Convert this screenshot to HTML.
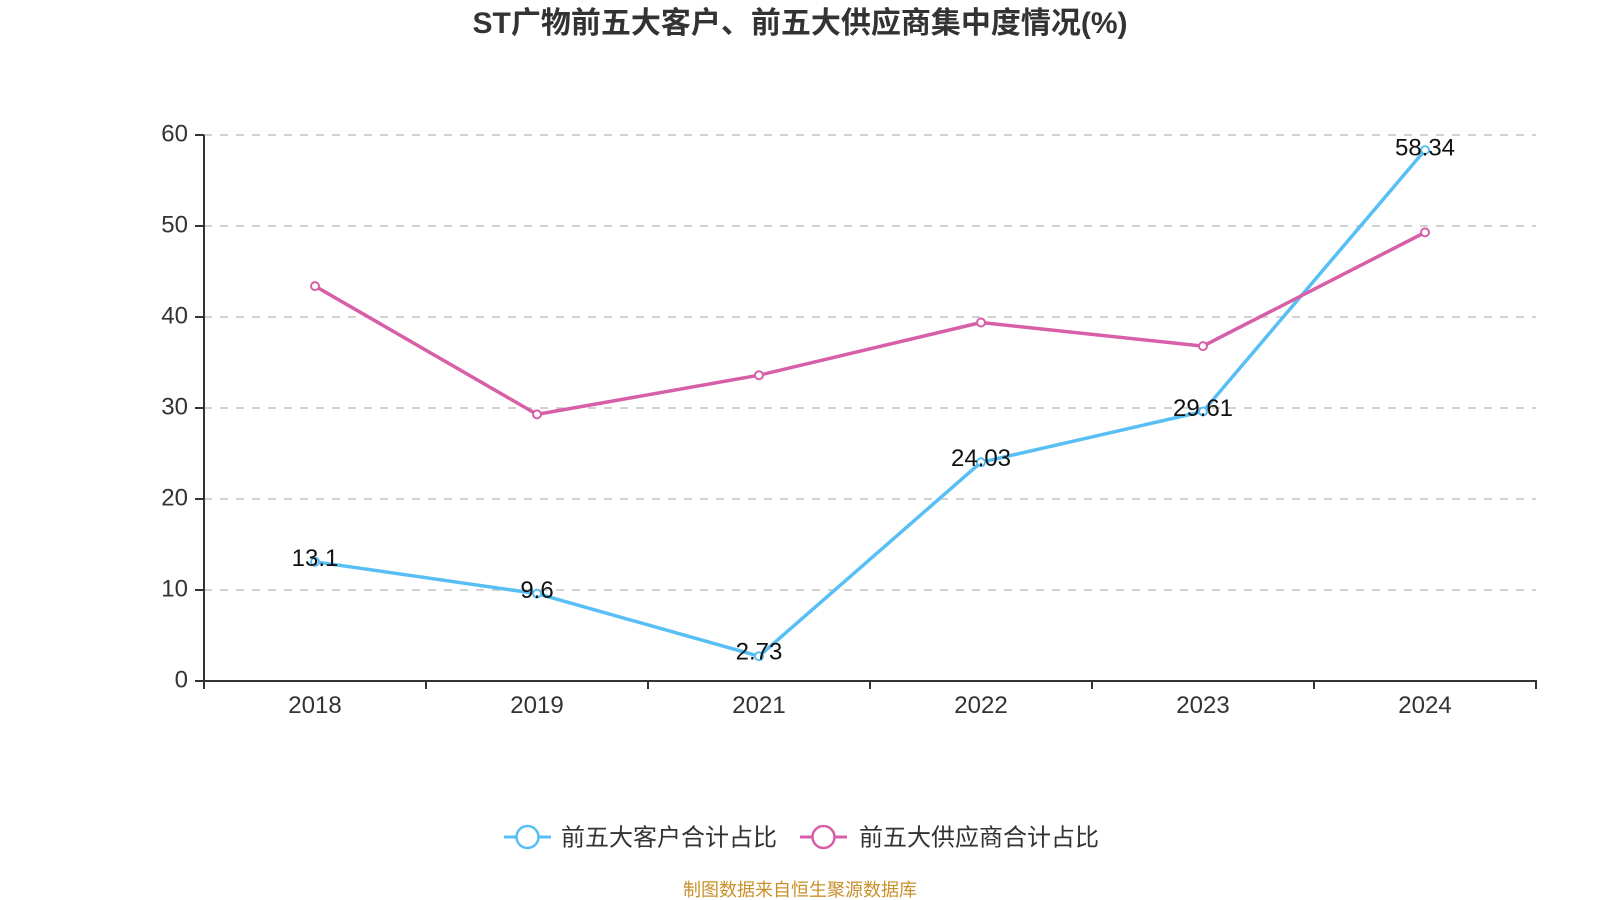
<!DOCTYPE html>
<html>
<head>
<meta charset="utf-8">
<style>
  html, body { margin: 0; padding: 0; background: #fff; }
  body { width: 1600px; height: 900px; overflow: hidden; }
  svg { display: block; }
  text { font-family: "Liberation Sans", "Noto Sans CJK SC", sans-serif; }
</style>
</head>
<body>
<svg width="1600" height="900" viewBox="0 0 1600 900" xmlns="http://www.w3.org/2000/svg">
  <rect width="1600" height="900" fill="#fff"/>

  <!-- Title -->
  <text x="800" y="33" text-anchor="middle" font-size="30" font-weight="bold" fill="#333">ST广物前五大客户、前五大供应商集中度情况(%)</text>

  <!-- Grid lines -->
  <g stroke="#c4c4c4" stroke-width="1.5" stroke-dasharray="8,8">
    <line x1="204" y1="135" x2="1536" y2="135"/>
    <line x1="204" y1="226" x2="1536" y2="226"/>
    <line x1="204" y1="317" x2="1536" y2="317"/>
    <line x1="204" y1="408" x2="1536" y2="408"/>
    <line x1="204" y1="499" x2="1536" y2="499"/>
    <line x1="204" y1="590" x2="1536" y2="590"/>
  </g>

  <!-- Axes -->
  <g stroke="#333" stroke-width="2" fill="none">
    <line x1="204" y1="135" x2="204" y2="681"/>
    <line x1="204" y1="681" x2="1537" y2="681"/>
    <!-- y ticks -->
    <line x1="195" y1="135" x2="204" y2="135"/>
    <line x1="195" y1="226" x2="204" y2="226"/>
    <line x1="195" y1="317" x2="204" y2="317"/>
    <line x1="195" y1="408" x2="204" y2="408"/>
    <line x1="195" y1="499" x2="204" y2="499"/>
    <line x1="195" y1="590" x2="204" y2="590"/>
    <line x1="195" y1="681" x2="204" y2="681"/>
    <!-- x ticks -->
    <line x1="204" y1="681" x2="204" y2="689"/>
    <line x1="426" y1="681" x2="426" y2="689"/>
    <line x1="648" y1="681" x2="648" y2="689"/>
    <line x1="870" y1="681" x2="870" y2="689"/>
    <line x1="1092" y1="681" x2="1092" y2="689"/>
    <line x1="1314" y1="681" x2="1314" y2="689"/>
    <line x1="1536" y1="681" x2="1536" y2="689"/>
  </g>

  <!-- Y labels -->
  <g font-size="24" fill="#333" text-anchor="end">
    <text x="188" y="141.6">60</text>
    <text x="188" y="232.6">50</text>
    <text x="188" y="323.6">40</text>
    <text x="188" y="414.6">30</text>
    <text x="188" y="505.6">20</text>
    <text x="188" y="596.6">10</text>
    <text x="188" y="687.6">0</text>
  </g>

  <!-- X labels -->
  <g font-size="24" fill="#333" text-anchor="middle">
    <text x="315" y="713">2018</text>
    <text x="537" y="713">2019</text>
    <text x="759" y="713">2021</text>
    <text x="981" y="713">2022</text>
    <text x="1203" y="713">2023</text>
    <text x="1425" y="713">2024</text>
  </g>

  <!-- Blue series -->
  <polyline fill="none" stroke="#58bff5" stroke-width="3.5" stroke-linejoin="round"
    points="315,561.8 537,593.6 759,656.2 981,462.3 1203,411.5 1425,150.1"/>
  <g fill="#fff" stroke="#58bff5" stroke-width="2">
    <circle cx="315" cy="561.8" r="4"/>
    <circle cx="537" cy="593.6" r="4"/>
    <circle cx="759" cy="656.2" r="4"/>
    <circle cx="981" cy="462.3" r="4"/>
    <circle cx="1203" cy="411.5" r="4"/>
    <circle cx="1425" cy="150.1" r="4"/>
  </g>

  <!-- Pink series -->
  <polyline fill="none" stroke="#d75fa8" stroke-width="3.5" stroke-linejoin="round"
    points="315,286.1 537,414.4 759,375.2 981,322.5 1203,346.1 1425,232.4"/>
  <g fill="#fff" stroke="#d75fa8" stroke-width="2">
    <circle cx="315" cy="286.1" r="4"/>
    <circle cx="537" cy="414.4" r="4"/>
    <circle cx="759" cy="375.2" r="4"/>
    <circle cx="981" cy="322.5" r="4"/>
    <circle cx="1203" cy="346.1" r="4"/>
    <circle cx="1425" cy="232.4" r="4"/>
  </g>

  <!-- Data labels -->
  <g font-size="24" fill="#111" text-anchor="middle">
    <text x="315" y="566">13.1</text>
    <text x="537" y="598">9.6</text>
    <text x="759" y="659.5">2.73</text>
    <text x="981" y="466">24.03</text>
    <text x="1203" y="416">29.61</text>
    <text x="1425" y="155.5">58.34</text>
  </g>

  <!-- Legend -->
  <g>
    <line x1="504" y1="837" x2="551" y2="837" stroke="#58bff5" stroke-width="3"/>
    <circle cx="527.5" cy="837" r="11" fill="#fff" stroke="#58bff5" stroke-width="2.5"/>
    <text x="561" y="845.5" font-size="24" fill="#333">前五大客户合计占比</text>

    <line x1="800" y1="837" x2="847" y2="837" stroke="#d75fa8" stroke-width="3"/>
    <circle cx="823.5" cy="837" r="11" fill="#fff" stroke="#d75fa8" stroke-width="2.5"/>
    <text x="859" y="845.5" font-size="24" fill="#333">前五大供应商合计占比</text>
  </g>

  <!-- Footer -->
  <text x="800" y="896" text-anchor="middle" font-size="18" fill="#c8902a">制图数据来自恒生聚源数据库</text>
</svg>
</body>
</html>
